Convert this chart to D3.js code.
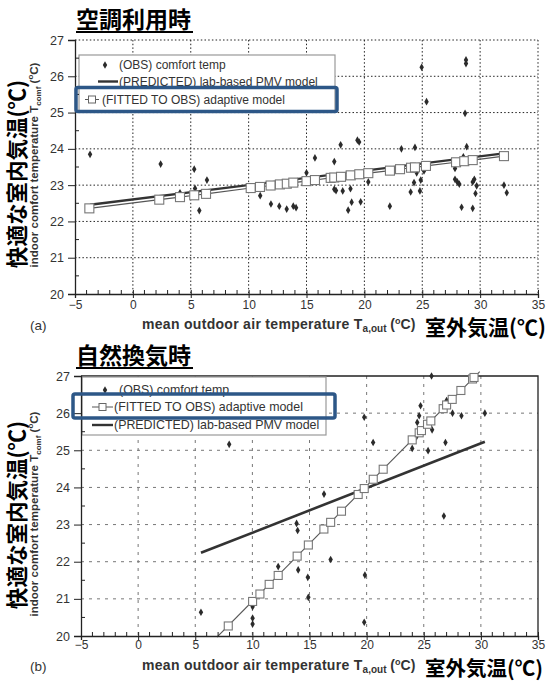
<!DOCTYPE html>
<meta charset="utf-8">
<script src="https://d3js.org/d3.v7.min.js"></script>
<style>
  body { margin: 0; background: #fff; }
  text { font-family: "Liberation Sans", Arial, sans-serif; fill: #333; }
  .jp { font-family: "Noto Sans CJK JP", sans-serif; font-weight: 700; fill: #000; }
</style>
<div id="chart"></div>
<script>
// axis ticks
const xTicks = [-5, 0, 5, 10, 15, 20, 25, 30, 35];
const yTicks = [20, 21, 22, 23, 24, 25, 26, 27];

// (a) air-conditioned: observed comfort temps
const obsA_x = [-3.7, 2.4, 4.07, 5.3, 5.37, 5.74, 6.4, 11.0, 11.93, 12.65, 13.29, 13.86, 14.1, 15.0, 15.73, 17.4, 17.95, 19.4, 19.55, 20.34,
  17.4, 17.55, 18.13, 18.8, 18.9, 18.6, 19.68, 22.2, 23.2, 24.37, 24.0, 24.29, 24.52, 24.87, 24.8, 25.15, 27.83, 27.83, 28.03, 28.2,
  28.4, 28.55, 28.84, 28.7, 29.36, 29.5, 29.7, 29.6, 29.36, 32.06, 32.3, 24.95, 28.78, 28.78, 25.37];
const obsA_y = [23.85, 23.58, 22.79, 23.44, 22.91, 22.30, 23.14, 22.71, 22.48, 22.42, 22.34, 22.42, 22.38, 23.34, 23.75, 23.65, 24.11, 24.24, 24.19, 23.09,
  22.89, 22.85, 22.84, 22.90, 22.53, 22.31, 22.54, 22.42, 24.00, 24.04, 22.81, 23.07, 23.34, 23.14, 22.84, 23.39, 23.46, 23.16, 23.09, 23.03,
  22.39, 23.78, 24.06, 24.98, 23.09, 23.16, 22.98, 22.77, 22.36, 23.00, 22.79, 26.25, 26.45, 26.35, 25.30];
// (a) fitted adaptive model
const fitA_x = [-3.76, 2.28, 4.07, 5.3, 6.32, 10.18, 10.98, 11.9, 12.7, 13.3, 13.86, 15.0, 15.73, 17.09, 17.4, 17.98, 18.82, 19.56, 20.34,
  22.21, 23.08, 24.03, 24.37, 25.32, 27.92, 28.63, 29.36, 32.06];
const fitA_y = [22.36, 22.60, 22.67, 22.72, 22.76, 22.92, 22.95, 22.99, 23.02, 23.04, 23.07, 23.11, 23.14, 23.20, 23.21, 23.23, 23.27, 23.30, 23.33,
  23.40, 23.44, 23.48, 23.49, 23.53, 23.63, 23.66, 23.69, 23.80];
// (a) predicted PMV model
const pmvA_x = [-3.7, 32.4];
const pmvA_y = [22.46, 23.89];

// (b) naturally ventilated: observed comfort temps
const obsB_x = [5.5, 10.02, 10.02, 10.02, 12.26, 13.87, 13.96, 14.01, 14.85, 14.9, 16.27, 16.85, 19.85, 19.79, 26.76, 25.68, 19.79, 20.57,
  24.72, 24.6, 24.43, 23.99, 25.38, 25.73, 26.9, 27.0, 27.52, 28.3, 30.35, 24.37, 7.97];
const obsB_y = [20.64, 20.79, 20.48, 20.32, 21.87, 23.03, 22.84, 21.78, 21.58, 21.04, 23.82, 22.06, 21.64, 20.37, 23.23, 27.0, 25.89, 25.21,
  26.2, 25.93, 25.75, 25.05, 24.99, 25.55, 25.21, 26.34, 26.0, 25.93, 26.0, 25.37, 25.16];
// (b) fitted adaptive model
const fitB_x = [7.89, 10.02, 10.66, 11.47, 12.26, 13.92, 14.9, 16.26, 16.85, 17.8, 19.26, 19.79, 20.58, 21.45, 23.99, 24.6, 24.8, 25.33,
  25.62, 26.7, 27.0, 27.49, 28.25, 29.27, 29.4];
const fitB_y = [20.27, 20.93, 21.13, 21.39, 21.63, 22.15, 22.45, 22.88, 23.06, 23.36, 23.81, 23.97, 24.22, 24.49, 25.28, 25.47, 25.53, 25.70,
  25.79, 26.12, 26.22, 26.37, 26.61, 26.92, 26.96];
const fitLineB_x = [6.9, 29.9];
const fitLineB_y = [19.97, 27.12];
// (b) predicted PMV model
const pmvB_x = [5.5, 30.35];
const pmvB_y = [22.24, 25.23];

const svg = d3.select("#chart").append("svg")
  .attr("width", 549)
  .attr("height", 682);

const zip = (xs, ys) => xs.map((x, i) => [x, ys[i]]);

function drawPanel(p) {
  const x = d3.scaleLinear().domain([-5, 35]).range([p.left, p.right]);
  const y = d3.scaleLinear().domain([20, 27]).range([p.bottom, p.top]);
  const g = svg.append("g");

  // grid
  const gridY = yTicks.slice(1);
  const gridX = xTicks.slice(1);
  g.selectAll(".gy").data(gridY).join("line")
    .attr("x1", p.left).attr("x2", p.right)
    .attr("y1", d => y(d)).attr("y2", d => y(d))
    .attr("stroke", p.gridColor).attr("stroke-width", 1)
    .attr("stroke-dasharray", p.dash)
    .attr("opacity", d => (p.solidFrame && d === 27) ? 0 : 1);
  g.selectAll(".gx").data(gridX).join("line")
    .attr("y1", p.top).attr("y2", p.bottom)
    .attr("x1", d => x(d)).attr("x2", d => x(d))
    .attr("stroke", p.gridColor).attr("stroke-width", 1)
    .attr("stroke-dasharray", p.dash)
    .attr("opacity", d => (p.solidFrame && d === 35) ? 0 : 1);
  if (p.solidFrame) {
    g.append("path")
      .attr("d", `M${p.left},${p.top}H${p.right}V${p.bottom}`)
      .attr("fill", "none").attr("stroke", "#222").attr("stroke-width", 1.3);
  }

  // legend box
  const lg = g.append("g");
  lg.append("rect")
    .attr("x", p.legend.x).attr("y", p.legend.y)
    .attr("width", p.legend.w).attr("height", p.legend.h)
    .attr("fill", "#fff").attr("stroke", "#999").attr("stroke-width", 1.2);

  // pmv line
  const line = d3.line().x(d => x(d[0])).y(d => y(d[1]));
  g.append("path")
    .datum(zip(p.pmvX, p.pmvY))
    .attr("d", line)
    .attr("fill", "none").attr("stroke", "#333").attr("stroke-width", p.pmvWidth);

  // fitted line
  g.append("path")
    .datum(zip(p.fitLineX, p.fitLineY))
    .attr("d", line)
    .attr("fill", "none").attr("stroke", "#555").attr("stroke-width", 1.1);

  // observed points
  const sym = d3.symbol().type(d3.symbolDiamond).size(17);
  g.selectAll(".obs").data(zip(p.obsX, p.obsY)).join("path")
    .attr("d", sym)
    .attr("transform", d => `translate(${x(d[0])},${y(d[1])})`)
    .attr("fill", "#2b2b2b");

  // fitted squares
  const s = p.sq;
  g.selectAll(".sq").data(zip(p.fitX, p.fitY)).join("rect")
    .attr("x", d => x(d[0]) - s / 2).attr("y", d => y(d[1]) - s / 2)
    .attr("width", s).attr("height", s)
    .attr("fill", "#fff").attr("stroke", "#777").attr("stroke-width", 1.1);

  // axes
  const xAxis = d3.axisBottom(x).tickValues(xTicks).tickSize(4).tickFormat(d3.format("d"));
  const ax = g.append("g").attr("transform", `translate(0,${p.bottom})`).call(xAxis);
  ax.select(".domain").attr("stroke", "#222").attr("stroke-width", 1.3);
  ax.selectAll(".tick line").attr("stroke", "#222").attr("y1", -4);
  ax.selectAll(".tick text").attr("font-size", 12).attr("fill", "#333").attr("dy", p.tickDy)
    .attr("font-family", "Liberation Sans, Arial, sans-serif");
  // minor x ticks
  g.selectAll(".mx").data(d3.range(-4, 35, 1).filter(d => d % 5 !== 0)).join("line")
    .attr("x1", d => x(d)).attr("x2", d => x(d))
    .attr("y1", p.bottom).attr("y2", p.bottom - 4)
    .attr("stroke", "#222");

  const yAxis = d3.axisLeft(y).tickValues(yTicks).tickSize(7).tickFormat(d3.format("d"));
  const ay = g.append("g").attr("transform", `translate(${p.left},0)`).call(yAxis);
  ay.select(".domain").attr("stroke", "#222").attr("stroke-width", 1.3);
  ay.selectAll(".tick line").attr("stroke", "#222");
  ay.selectAll(".tick text").attr("font-size", 12.5).attr("fill", "#333").attr("x", -11)
    .attr("font-family", "Liberation Sans, Arial, sans-serif");
  // minor y ticks
  g.selectAll(".my").data(d3.range(20.5, 27, 1)).join("line")
    .attr("x1", p.left).attr("x2", p.left + 4)
    .attr("y1", d => y(d)).attr("y2", d => y(d))
    .attr("stroke", "#222");

  // legend entries
  p.legend.rows.forEach((r, i) => {
    const cy = p.legend.rowY[i];
    if (r.type === "obs") {
      lg.append("path").attr("d", sym).attr("transform", `translate(${p.legend.symX},${cy})`).attr("fill", "#2b2b2b");
    } else if (r.type === "pmv") {
      lg.append("line").attr("x1", r.x0).attr("x2", r.x1).attr("y1", cy).attr("y2", cy)
        .attr("stroke", "#333").attr("stroke-width", 2.4);
    } else {
      lg.append("line").attr("x1", r.x0).attr("x2", r.x1).attr("y1", cy).attr("y2", cy)
        .attr("stroke", "#555").attr("stroke-width", 1);
      const mx = (r.x0 + r.x1) / 2;
      lg.append("rect").attr("x", mx - 3.5).attr("y", cy - 3.5).attr("width", 7).attr("height", 7)
        .attr("fill", "#fff").attr("stroke", "#666");
    }
    lg.append("text").attr("x", r.tx).attr("y", cy).attr("dy", "0.35em")
      .attr("font-size", p.legend.fs).attr("fill", "#222").text(r.label);
  });

  // highlight box
  svg.append("rect")
    .attr("x", p.hl.x).attr("y", p.hl.y).attr("width", p.hl.w).attr("height", p.hl.h)
    .attr("rx", 2).attr("fill", "none").attr("stroke", "#2d5787").attr("stroke-width", 3.5);

  // title
  svg.append("text").attr("class", "jp").attr("x", p.titleX).attr("y", p.titleY)
    .attr("font-size", 23).text(p.title);
  svg.append("line").attr("x1", p.titleX).attr("x2", p.titleX + 117)
    .attr("y1", p.titleY + 4).attr("y2", p.titleY + 4)
    .attr("stroke", "#000").attr("stroke-width", 2);

  // x label
  const xl = svg.append("text").attr("x", 142).attr("y", p.xLabelY)
    .attr("font-size", 14).attr("font-weight", "bold").attr("fill", "#222");
  xl.append("tspan").attr("letter-spacing", 0.3).text("mean outdoor air temperature T");
  xl.append("tspan").attr("font-size", 10).attr("dy", 2.5).text("a,out");
  xl.append("tspan").attr("dy", -2.5).text(" (");
  xl.append("tspan").attr("font-size", 9).attr("dy", -5).text("o");
  xl.append("tspan").attr("dy", 5).text("C)");
  svg.append("text").attr("class", "jp").attr("x", 425).attr("y", p.jpY)
    .attr("font-size", p.jpFs).text("室外気温(℃)");
  svg.append("text").attr("x", 30).attr("y", p.xLabelY + 1)
    .attr("font-size", 13.5).attr("fill", "#333").text(p.tag);

  // y labels
  svg.append("text").attr("class", "jp")
    .attr("transform", `translate(17,${p.bigYC}) rotate(-90)`)
    .attr("text-anchor", "middle").attr("dy", "0.35em")
    .attr("font-size", 21.5).text("快適な室内気温(℃)");
  const yl = svg.append("text")
    .attr("transform", `translate(34,${p.smallYC}) rotate(-90)`)
    .attr("text-anchor", "middle").attr("dy", "0.35em")
    .attr("font-size", 11.5).attr("font-weight", "bold").attr("fill", "#222");
  yl.append("tspan").text("indoor comfort temperature T");
  yl.append("tspan").attr("font-size", 8).attr("dy", 2.5).text("comf");
  yl.append("tspan").attr("dy", -2.5).text(" (");
  yl.append("tspan").attr("font-size", 8).attr("dy", -5).text("o");
  yl.append("tspan").attr("dy", 5).text("C)");
}

drawPanel({
  left: 75, right: 538, top: 40, bottom: 294,
  gridColor: "#222", dash: "1.5,2.2", solidFrame: false,
  obsX: obsA_x, obsY: obsA_y, fitX: fitA_x, fitY: fitA_y,
  fitLineX: fitA_x, fitLineY: fitA_y, pmvX: pmvA_x, pmvY: pmvA_y,
  pmvWidth: 2.4, sq: 9, tickDy: "0.68em",
  legend: {
    x: 79, y: 55, w: 256, h: 57, fs: 12, symX: 105,
    rowY: [65, 81.5, 99.5],
    rows: [
      { type: "obs", label: "(OBS) comfort temp", tx: 119 },
      { type: "pmv", label: "(PREDICTED) lab-based PMV model", x0: 98, x1: 118, tx: 119 },
      { type: "fit", label: "(FITTED TO OBS) adaptive model", x0: 85, x1: 99, tx: 102 }
    ]
  },
  hl: { x: 76, y: 87.5, w: 261, h: 24 },
  title: "空調利用時", titleX: 76, titleY: 28,
  xLabelY: 329, jpY: 335, jpFs: 21, tag: "(a)", bigYC: 174, smallYC: 165
});

drawPanel({
  left: 81, right: 538, top: 376, bottom: 636,
  gridColor: "#777", dash: "3,5", solidFrame: true,
  obsX: obsB_x, obsY: obsB_y, fitX: fitB_x, fitY: fitB_y,
  fitLineX: fitLineB_x, fitLineY: fitLineB_y, pmvX: pmvB_x, pmvY: pmvB_y,
  pmvWidth: 2.6, sq: 8, tickDy: "0.5em",
  legend: {
    x: 82, y: 377, w: 244, h: 58, fs: 12.4, symX: 105,
    rowY: [390, 407, 425],
    rows: [
      { type: "obs", label: "(OBS) comfort temp", tx: 119 },
      { type: "fit", label: "(FITTED TO OBS) adaptive model", x0: 92, x1: 113, tx: 114 },
      { type: "pmv", label: "(PREDICTED) lab-based PMV model", x0: 92, x1: 113, tx: 114 }
    ]
  },
  hl: { x: 73, y: 394, w: 262, h: 24 },
  title: "自然換気時", titleX: 76, titleY: 364,
  xLabelY: 670, jpY: 676, jpFs: 20.5, tag: "(b)", bigYC: 515, smallYC: 514
});
</script>
